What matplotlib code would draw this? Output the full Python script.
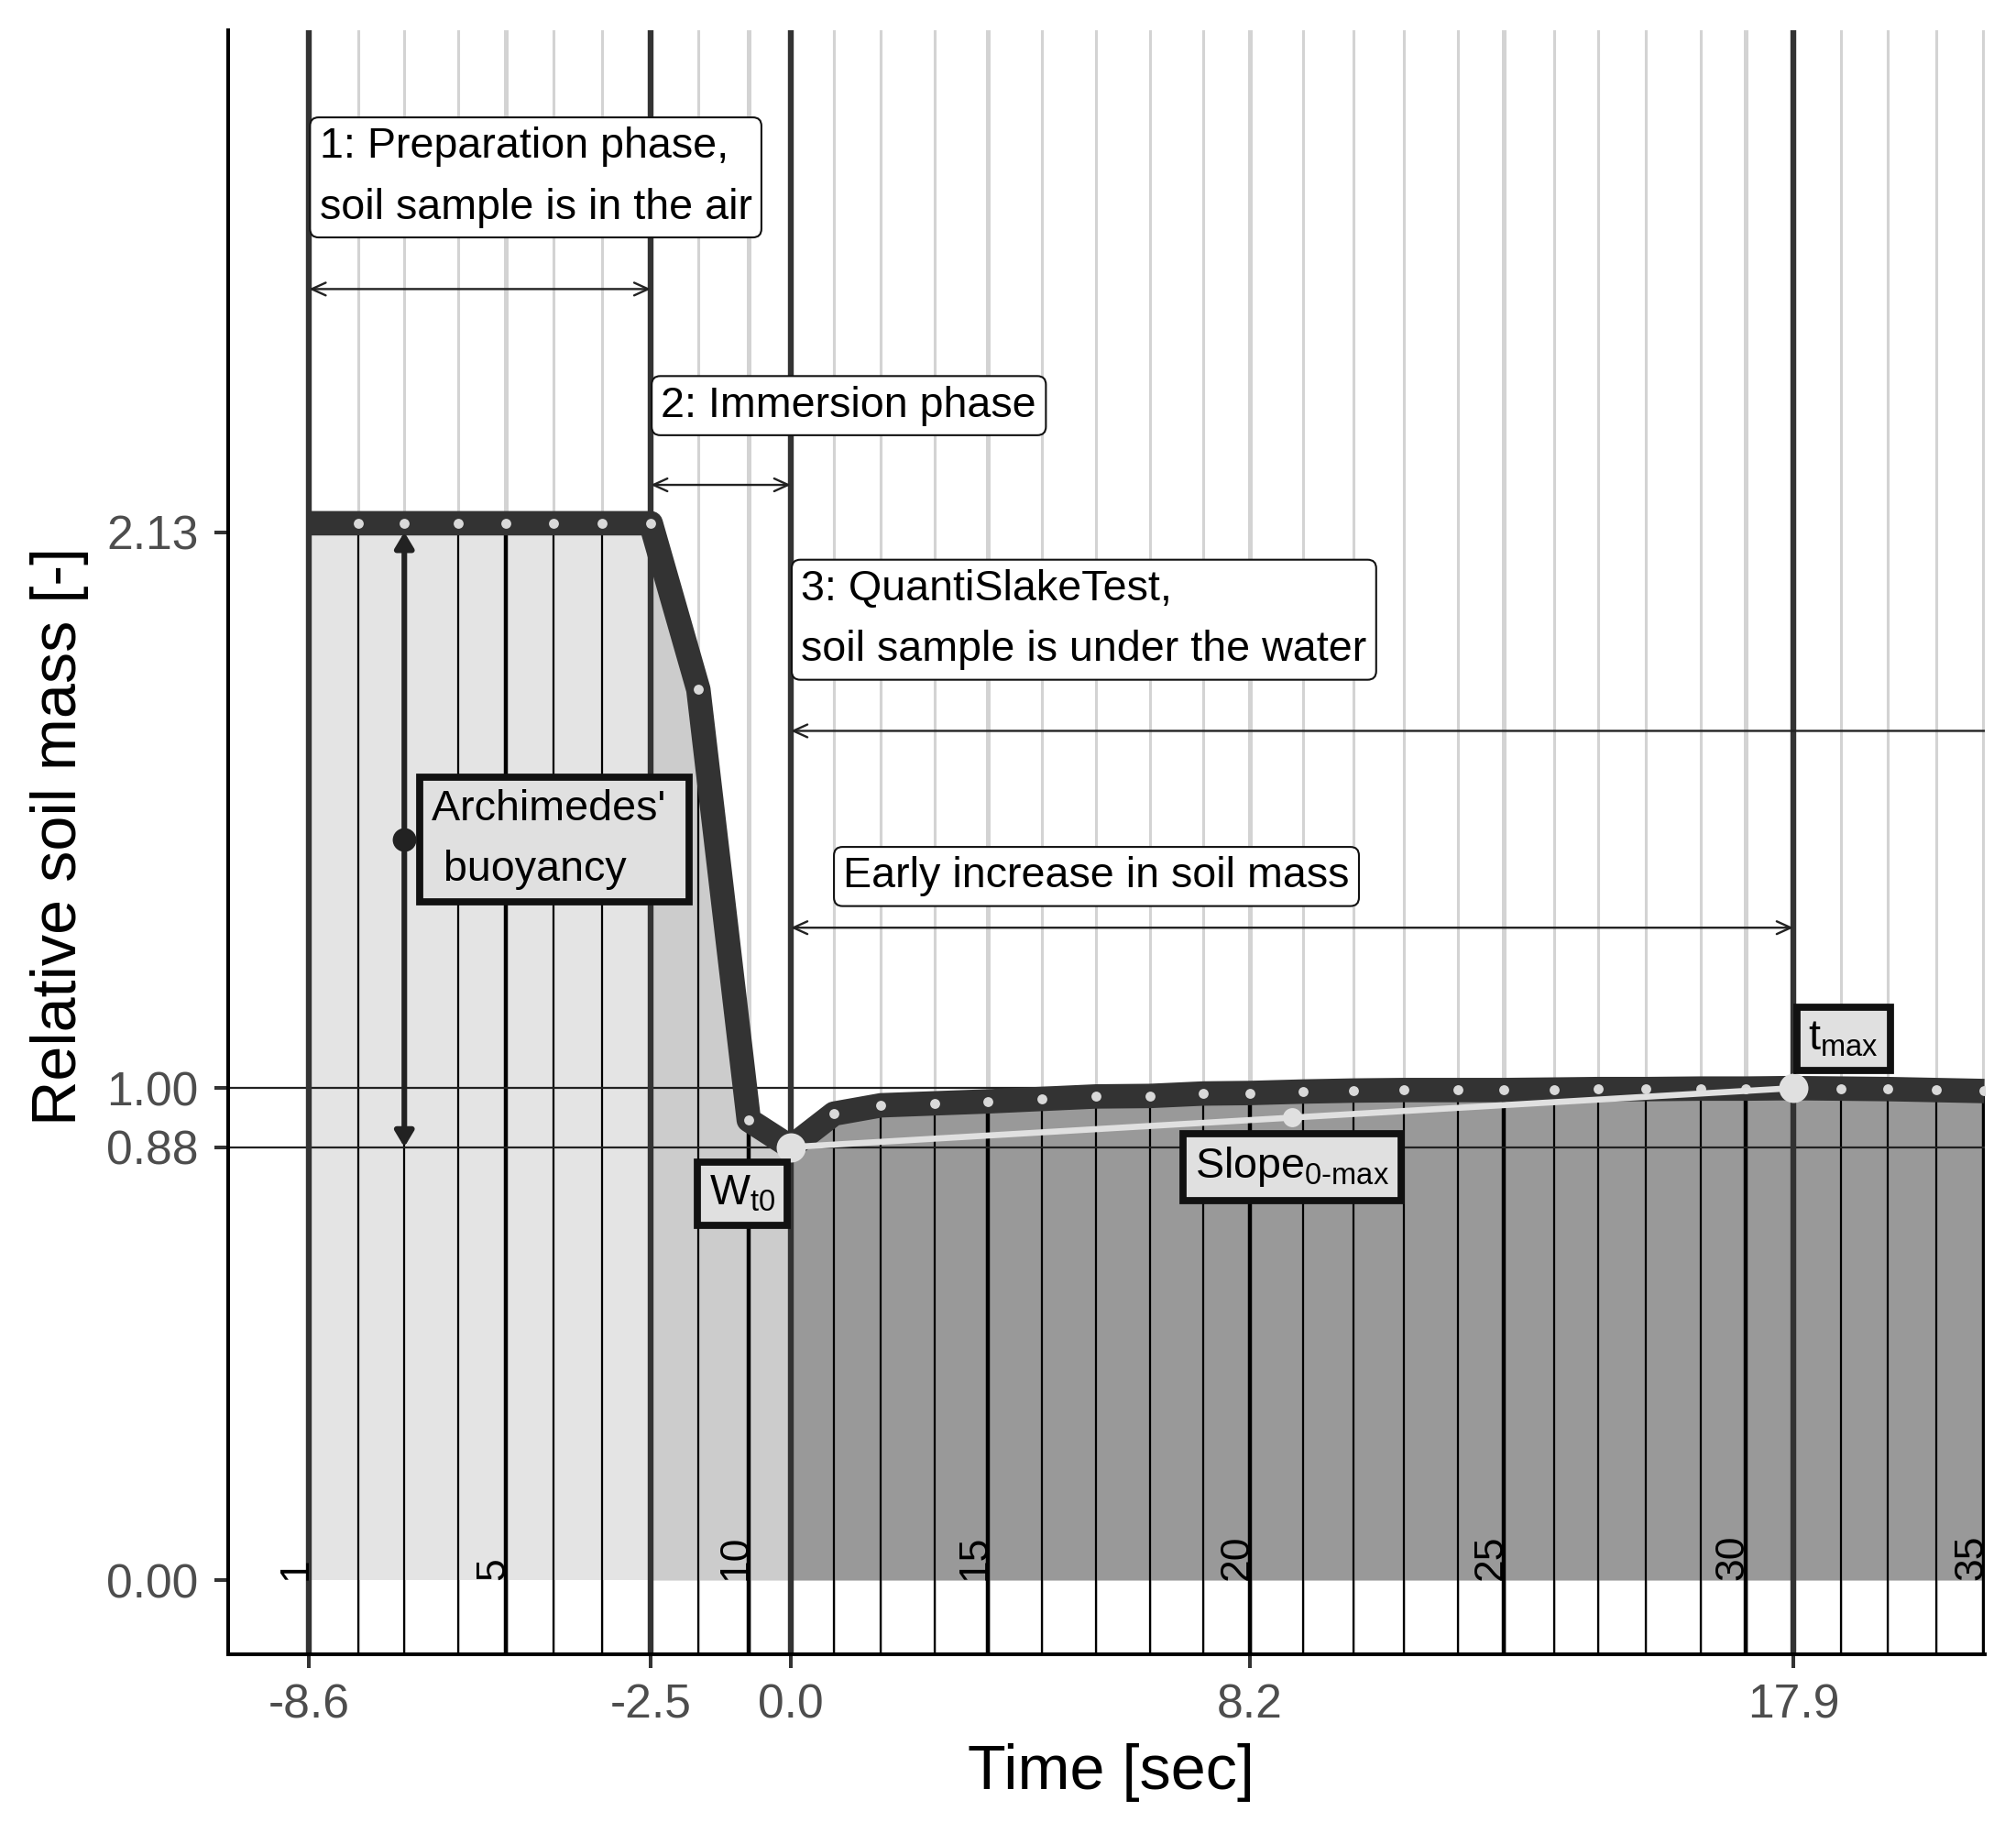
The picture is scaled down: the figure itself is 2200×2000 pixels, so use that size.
import matplotlib
matplotlib.use("Agg")
import matplotlib.pyplot as plt
from matplotlib.patches import FancyArrowPatch

plt.rcParams['font.family'] = ['Liberation Sans', 'DejaVu Sans']
plt.rcParams['mathtext.fontset'] = 'custom'
plt.rcParams['mathtext.rm'] = 'Liberation Sans'
plt.rcParams['mathtext.it'] = 'Liberation Sans:italic'
plt.rcParams['mathtext.bf'] = 'Liberation Sans:bold'

# ---------------- data ----------------
sample_ids = list(range(1, 36))
times = [-8.6, -7.73, -6.90, -5.94, -5.08, -4.23, -3.37, -2.5, -1.65, -0.75,
         0.0, 0.77, 1.61, 2.57, 3.52, 4.48, 5.45, 6.41, 7.37, 8.2,
         9.15, 10.05, 10.94, 11.91, 12.73, 13.63, 14.41, 15.27, 16.24, 17.05,
         17.9, 18.75, 19.59, 20.45, 21.31]
mass = [2.148, 2.148, 2.148, 2.148, 2.148, 2.148, 2.148, 2.148, 1.810, 0.935,
        0.880, 0.948, 0.965, 0.969, 0.973, 0.978, 0.983, 0.984, 0.989, 0.990,
        0.993, 0.995, 0.996, 0.996, 0.996, 0.997, 0.998, 0.998, 0.999, 0.999,
        1.000, 0.999, 0.998, 0.996, 0.994]
labelled_ids = [1, 5, 10, 15, 20, 25, 30, 35]
x_ticks = [-8.6, -2.5, 0.0, 8.2, 17.9]
x_tick_labels = ['-8.6', '-2.5', '0.0', '8.2', '17.9']
y_ticks = [0.00, 0.88, 1.00, 2.13]
y_tick_labels = ['0.00', '0.88', '1.00', '2.13']
phase_breaks = [-8.6, -2.5, 0.0, 17.9]
mass_air = 2.13
mass_t0 = 0.88
mass_max = 1.00
idx_air_end = 7     # sample 8 (-2.5 s)
idx_t0 = 10         # sample 11 (0.0 s)
idx_max = 30        # sample 31 (17.9 s)
idx_arch = 2        # sample 3, Archimedes arrow

# ---------------- figure ----------------
fig = plt.figure(figsize=(11, 10), dpi=200)
ax = fig.add_axes([0.11305, 0.0977, 0.8715, 0.8858])
ax.set_xlim(-10.05, 21.32)
ax.set_ylim(-0.15, 3.15)
ybot = -0.15

# grey gridlines at each sample
for sid, t in zip(sample_ids, times):
    ax.axvline(t, color='#d3d3d3', lw=1.8 if sid % 5 == 0 else 1.1, zorder=0.5)

# phase fills
ax.fill_between(times[:idx_air_end + 1], mass[:idx_air_end + 1], 0,
                color='#e4e4e4', lw=0, zorder=1)
ax.fill_between(times[idx_air_end:idx_t0 + 1], mass[idx_air_end:idx_t0 + 1], 0,
                color='#cccccc', lw=0, zorder=1)
ax.fill_between(times[idx_t0:], mass[idx_t0:], 0,
                color='#999999', lw=0, zorder=1)

# black segments from bottom up to the value
for sid, t, m in zip(sample_ids, times, mass):
    ax.vlines(t, ybot - 1, m, color='black',
              lw=1.6 if sid % 5 == 0 else 0.8, zorder=2)

# reference horizontal lines
for yv in [mass_t0, mass_max]:
    ax.axhline(yv, color='#222222', lw=0.8, zorder=2.5)

# phase boundary lines
for xb in phase_breaks:
    ax.axvline(xb, color='#333333', lw=2.3, zorder=3)

# main curve
ax.plot(times, mass, color='#333333', lw=9.6, solid_joinstyle='round',
        solid_capstyle='butt', zorder=4)
ax.plot(times[1:], mass[1:], 'o', ms=3.9, color='#d9d9d9', mec='none', zorder=5)

# slope line
t0, tm = times[idx_t0], times[idx_max]
m0, mm = mass[idx_t0], mass[idx_max]
ax.plot([t0, tm], [m0, mm], color='#e0e0e0', lw=2.4, zorder=6)
ax.plot([t0, tm], [m0, mm], 'o', ms=11.5, color='#e0e0e0', mec='none', zorder=6)
ax.plot([(t0 + tm) / 2], [(m0 + mm) / 2], 'o', ms=7.5, color='#e0e0e0',
        mec='none', zorder=6)

# sample number labels
for sid in labelled_ids:
    ax.text(times[sid - 1] - 0.04, 0, str(sid), rotation=90, rotation_mode='anchor',
            ha='left', va='baseline', fontsize=16, color='black', zorder=7)

# arrows
def harrow(x0, x1, y, style):
    ax.add_patch(FancyArrowPatch((x0, y), (x1, y), arrowstyle=style,
                                 mutation_scale=10, lw=0.85, color='#222222',
                                 shrinkA=0, shrinkB=0, zorder=6))

both = '<->,head_length=0.55,head_width=0.25'
harrow(phase_breaks[0], phase_breaks[1], 2.624, both)
harrow(phase_breaks[1], phase_breaks[2], 2.226, both)
harrow(phase_breaks[2], 25.0, 1.726, '<-,head_length=0.55,head_width=0.25')
harrow(phase_breaks[2], phase_breaks[3], 1.326, both)

# Archimedes arrow
ta = times[idx_arch]
ax.add_patch(FancyArrowPatch((ta, mass_t0), (ta, mass_air),
                             arrowstyle='<|-|>,head_length=0.5,head_width=0.3',
                             mutation_scale=10, lw=2.2, color='#222222',
                             shrinkA=0, shrinkB=0, zorder=6))
ax.plot([ta], [(mass_t0 + mass_air) / 2], 'o', ms=8.3, color='#222222', zorder=6)

# boxed labels
FS = 16.8

def boxed(x, y, s, ha, va, thick):
    pad = 0.27 if thick else 0.22
    lw = 2.8 if thick else 0.75
    fc = '#e0e0e0' if thick else 'white'
    style = f'square,pad={pad}' if thick else f'round,pad={pad},rounding_size=0.2'
    off = pad * FS + lw / 2
    dx = {'left': off, 'right': -off, 'center': 0}[ha]
    dy = {'bottom': off, 'top': -off, 'center': 0}[va]
    ax.annotate(s, (x, y), xytext=(dx, dy), textcoords='offset points',
                ha=ha, va=va, fontsize=FS, linespacing=1.66, color='black',
                bbox=dict(boxstyle=style, fc=fc, ec='#111111', lw=lw,
                          joinstyle='miter'),
                zorder=9, annotation_clip=False)

boxed(phase_breaks[0], 2.727, '1: Preparation phase,\nsoil sample is in the air',
      'left', 'bottom', False)
boxed(phase_breaks[1], 2.325, '2: Immersion phase', 'left', 'bottom', False)
boxed(phase_breaks[2], 1.828, '3: QuantiSlakeTest,\nsoil sample is under the water',
      'left', 'bottom', False)
boxed(0.754, 1.368, 'Early increase in soil mass', 'left', 'bottom', False)
boxed(-6.69, (mass_t0 + mass_air) / 2, "Archimedes' \n buoyancy", 'left', 'center', True)
boxed(t0, 0.857, r'W$_{\mathrm{t0}}$', 'right', 'top', True)
boxed(tm, mm + 0.028, r't$_{\mathrm{max}}$', 'left', 'bottom', True)
boxed((t0 + tm) / 2, (m0 + mm) / 2 - 0.025, r'Slope$_{\text{0-max}}$',
      'center', 'top', True)

# axes styling
ax.set_xticks(x_ticks)
ax.set_xticklabels(x_tick_labels)
ax.set_yticks(y_ticks)
ax.set_yticklabels(y_tick_labels)
ax.tick_params(axis='both', length=5.4, width=1.45, color='#333333',
               labelsize=18.6, labelcolor='#4d4d4d', pad=6.2)
for side in ['top', 'right']:
    ax.spines[side].set_visible(False)
for side in ['left', 'bottom']:
    ax.spines[side].set_linewidth(1.45)
    ax.spines[side].set_color('black')
    ax.spines[side].set_zorder(10)
ax.set_facecolor('white')

fig.text(1212 / 2200, 1 - 1951.7 / 2000, 'Time [sec]', ha='center',
         va='baseline', fontsize=24.6, color='black')
fig.text(82.7 / 2200, 1 - 912 / 2000, 'Relative soil mass [-]', rotation=90,
         rotation_mode='anchor', ha='center', va='baseline', fontsize=24.6,
         color='black')

fig.savefig('out.png', dpi=200)
